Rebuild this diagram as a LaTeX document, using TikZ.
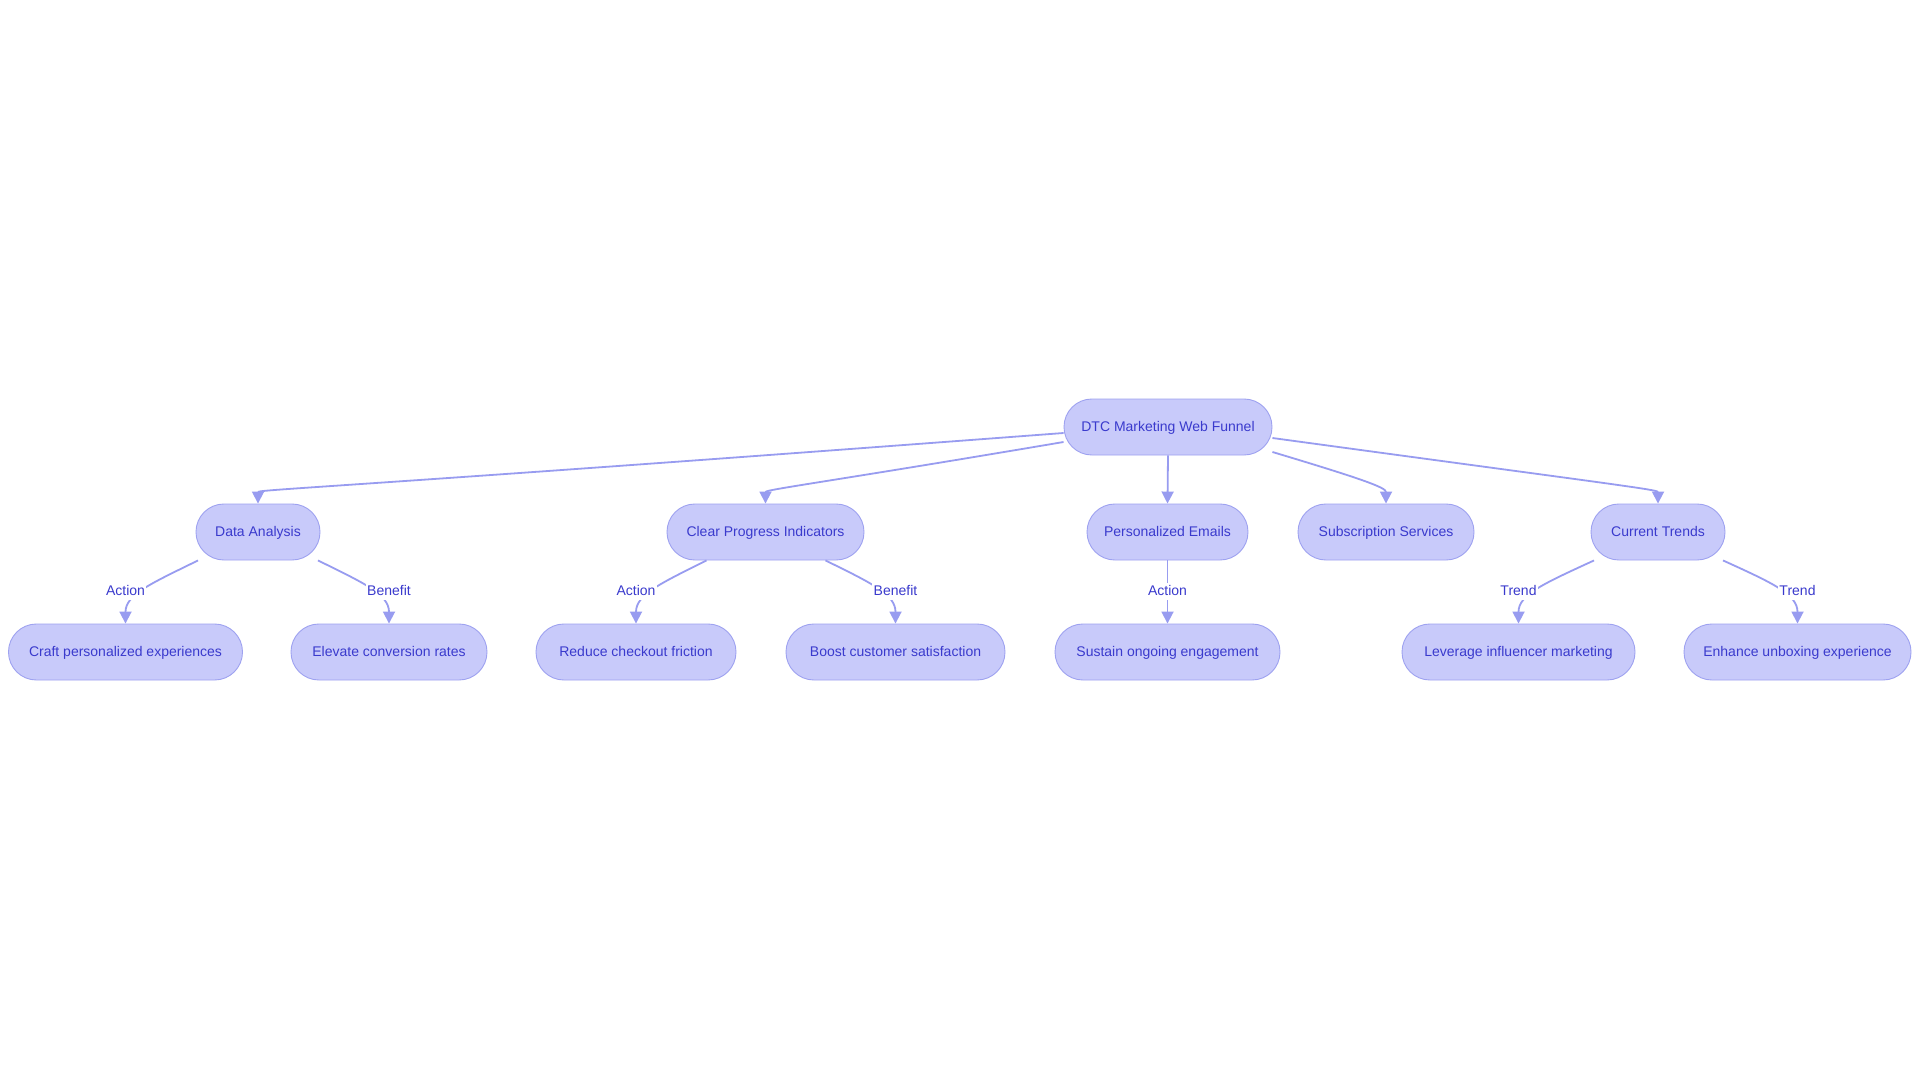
\documentclass[tikz,border=0pt]{standalone}
\usepackage{fontspec}
\setmainfont{Liberation Sans}
\usepackage{tikz}
\usetikzlibrary{calc}
\usetikzlibrary{arrows.meta}

\definecolor{pillfill}{RGB}{200,202,250}
\definecolor{pilledge}{RGB}{158,162,240}
\definecolor{inkblue}{RGB}{58,58,205}
\definecolor{wireblue}{RGB}{152,156,240}

\begin{document}
\begin{tikzpicture}[x = 1pt, y = -1pt,
    pill/.style = {draw = pilledge, fill = pillfill, line width = 0.9pt, rounded corners = 27.9pt, minimum height = 56pt, text height = 11pt, text depth = 3pt, text = inkblue, font = \fontsize{14}{16}\selectfont},
    wire/.style = {draw = wireblue, line width = 1.8pt, -{Triangle[length = 12pt, width = 12pt]}},
    lbl/.style = {fill = white, text = inkblue, inner sep = 1.5pt, text height = 11pt, text depth = 3pt, font = \fontsize{14}{16}\selectfont}]
    \fill[white] (0,0) rectangle (1920,1083);
    \useasboundingbox (0,0) rectangle (1920,1083);

    \node[pill, minimum width = 208pt] (root) at (1168,427) {DTC Marketing Web Funnel};

    \node[pill, minimum width = 124pt] (da) at (258,532) {Data Analysis};
    \node[pill, minimum width = 197pt] (cp) at (765.5,532) {Clear Progress Indicators};
    \node[pill, minimum width = 161pt] (pe) at (1167.5,532) {Personalized Emails};
    \node[pill, minimum width = 176pt] (ss) at (1386,532) {Subscription Services};
    \node[pill, minimum width = 134pt] (ct) at (1658,532) {Current Trends};

    \node[pill, minimum width = 234pt] (cpe) at (125.5,652) {Craft personalized experiences};
    \node[pill, minimum width = 196pt] (ecr) at (389,652) {Elevate conversion rates};
    \node[pill, minimum width = 200pt] (rcf) at (636,652) {Reduce checkout friction};
    \node[pill, minimum width = 219pt] (bcs) at (895.5,652) {Boost customer satisfaction};
    \node[pill, minimum width = 225pt] (soe) at (1167.5,652) {Sustain ongoing engagement};
    \node[pill, minimum width = 233pt] (lim) at (1518.5,652) {Leverage influencer marketing};
    \node[pill, minimum width = 227pt] (eue) at (1797.5,652) {Enhance unboxing experience};

    \draw[wire] ($(root.west)+(0,6)$) .. controls +(-700,53) and +(0,-14) .. (da.north);
    \draw[wire] ($(root.west)+(0,15)$) .. controls +(-230,39) and +(0,-14) .. (cp.north);
    \draw[wire] (root.south) -- (pe.north);
    \draw[wire] ($(root.east)+(0,25)$) .. controls +(90,27) and +(0,-16) .. (ss.north);
    \draw[wire] ($(root.east)+(0,11)$) .. controls +(330,45) and +(0,-14) .. (ct.north);

    \foreach \p/\c/\o/\t in {da/cpe/-60/Action, da/ecr/60/Benefit, cp/rcf/-59/Action,
        cp/bcs/60/Benefit, ct/lim/-64/Trend, ct/eue/65/Trend}
    {
        \draw[wire] ($(\p.south)+(\o,0)$) .. controls +({0.78*(\o)},23) and +(0,-29) .. (\c.north);
        \node[lbl] (l-\c) at ($(\c.north)+(0,-32)$) {\t};
    }
    \draw[wire] (pe.south) -- (soe.north);
    \node[lbl] (l-soe) at ($(soe.north)+(0,-32)$) {Action};
\end{tikzpicture}
\end{document}
